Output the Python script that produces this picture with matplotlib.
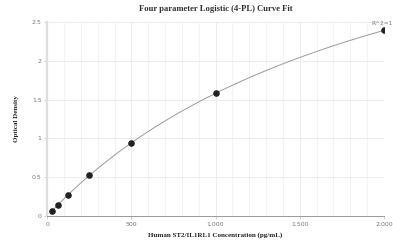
import numpy as np
import matplotlib.pyplot as plt
from matplotlib.ticker import FuncFormatter, MultipleLocator

# standards (pg/mL) and measured optical density
conc = [31.25, 62.5, 125, 250, 500, 1000, 2000]
od = [0.07, 0.14, 0.27, 0.53, 0.94, 1.58, 2.39]

# 4PL fit parameters
A, B, C, D = 0.0, 1.0, 2107.0, 4.91

x_ticks = [0, 500, 1000, 1500, 2000]
y_ticks = [0, 0.5, 1, 1.5, 2, 2.5]

fig = plt.figure(figsize=(3.93, 2.46), dpi=100)
ax = fig.add_axes([0.12, 0.122, 0.857, 0.789])

xs = np.linspace(conc[0], conc[-1], 300)
fit = D + (A - D) / (1 + (xs / C) ** B)
ax.plot(xs, fit, color='#9a9a9a', lw=0.7, zorder=2)
ax.scatter(conc, od, s=14, color='#222222', zorder=3)

ax.set_xlim(0, 2000)
ax.set_ylim(0, 2.5)
ax.set_xticks(x_ticks)
ax.set_yticks(y_ticks)
ax.xaxis.set_minor_locator(MultipleLocator(100))
ax.xaxis.set_major_formatter(FuncFormatter(lambda v, p: '{:,.0f}'.format(v)))
ax.yaxis.set_major_formatter(FuncFormatter(lambda v, p: '{:g}'.format(v)))

ax.grid(axis='x', which='minor', color='#f3f3f6', lw=0.6)
ax.grid(axis='x', which='major', color='#e8e8ee', lw=0.6)
ax.grid(axis='y', which='major', color='#e8e8ee', lw=0.6)
ax.set_axisbelow(True)

for s in ['top', 'right']:
    ax.spines[s].set_visible(False)
ax.spines['left'].set_color('#dddddd')
ax.spines['left'].set_linewidth(1.6)
ax.spines['bottom'].set_color('#999999')
ax.spines['bottom'].set_linewidth(0.7)

ax.tick_params(axis='both', which='major', labelsize=4.5, labelcolor='#777777',
               color='#bbbbbb', length=2, width=0.5, pad=2)
ax.tick_params(axis='x', which='minor', length=0)

ax.set_title('Four parameter Logistic (4-PL) Curve Fit', family='Liberation Serif',
             fontweight='bold', fontsize=6.2, color='#333333', pad=8)
ax.set_xlabel('Human ST2/IL1RL1 Concentration (pg/mL)', family='Liberation Serif',
              fontweight='bold', fontsize=5, color='#222222', labelpad=4)
ax.set_ylabel('Optical Density', family='Liberation Serif',
              fontweight='bold', fontsize=5, color='#222222', labelpad=9)

ax.annotate('R^2=1', (conc[-1], od[-1]), xytext=(-1.5, 3), textcoords='offset points',
            ha='center', va='bottom', fontsize=4.2, color='#777777')

fig.savefig('out.png', dpi=100)
